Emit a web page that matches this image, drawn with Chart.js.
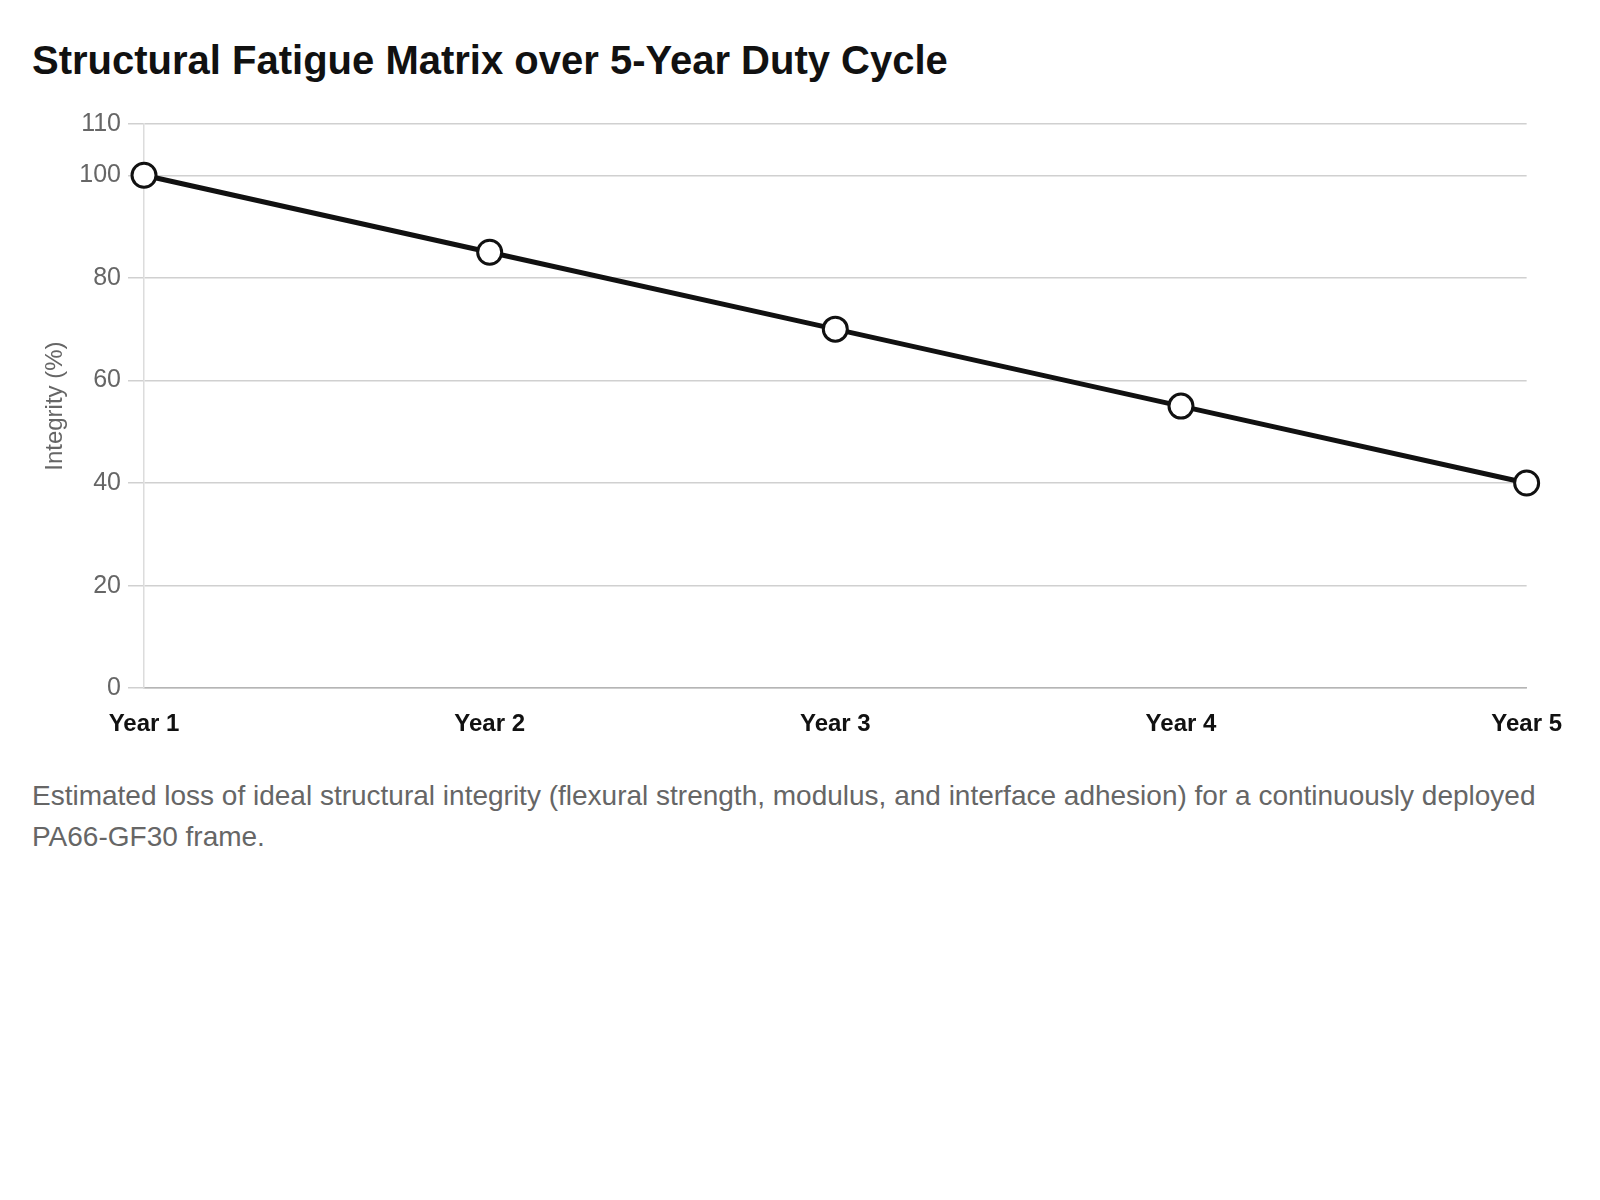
<!DOCTYPE html>
<html>
<head>
<meta charset="utf-8">
<script src="https://cdn.jsdelivr.net/npm/chart.js@4"></script>
<style>
    body {
        margin: 0;
        background: #fff;
        font-family: "Liberation Sans", Arial, sans-serif;
    }
    .wrap {
        padding: 36px 32px 0 32px;
    }
    h1 {
        margin: 0;
        font-size: 40px;
        line-height: 48px;
        font-weight: bold;
        color: #111;
    }
    .chart-box {
        position: relative;
        height: 661px;
        margin-top: 16px;
        margin-right: -16px;
    }
    p.caption {
        margin: 15px 0 0 0;
        font-size: 28px;
        line-height: 1.45;
        color: #666;
    }
</style>
</head>
<body>
<div class="wrap">
    <h1>Structural Fatigue Matrix over 5-Year Duty Cycle</h1>
    <div class="chart-box">
        <canvas id="FatigueChart"></canvas>
    </div>
    <p class="caption">Estimated loss of ideal structural integrity (flexural strength, modulus, and interface adhesion) for a continuously deployed PA66-GF30 frame.</p>
</div>

<script>
const fatigue_years = ["Year 1", "Year 2", "Year 3", "Year 4", "Year 5"];
const fatigue_integrity = [100, 85, 70, 55, 40];
const fatigue_y_ticks = [0, 20, 40, 60, 80, 100, 110];

function graph_fatigue_matrix(labels, values, yTicks) {
    const ctx = document.getElementById("FatigueChart").getContext("2d");

    new Chart(ctx, {
        type: "line",
        data: {
            labels: labels,
            datasets: [
                {
                    label: "Integrity",
                    data: values,
                    borderColor: "#111111",
                    backgroundColor: "#ffffff",
                    borderWidth: 5,
                    fill: false,
                    tension: 0,
                    pointRadius: 12,
                    pointHoverRadius: 12,
                    pointBorderWidth: 3,
                    pointBackgroundColor: "#ffffff",
                    pointBorderColor: "#111111"
                }
            ]
        },
        options: {
            responsive: true,
            maintainAspectRatio: false,
            animation: false,
            layout: {
                padding: { top: 24, right: 39, left: 5, bottom: 0 }
            },
            plugins: {
                legend: { display: false },
                tooltip: { enabled: false }
            },
            scales: {
                x: {
                    offset: false,
                    grid: {
                        display: false,
                        drawTicks: false
                    },
                    border: {
                        display: true,
                        color: "#b5b5b5",
                        width: 1.5
                    },
                    ticks: {
                        color: "#111111",
                        padding: 22,
                        maxRotation: 0,
                        font: { family: "Liberation Sans", size: 24, weight: "bold" }
                    }
                },
                y: {
                    min: 0,
                    max: 110,
                    afterBuildTicks: function(axis) {
                        // feste Ticks inkl. 110 oben
                        axis.ticks = yTicks.map(v => ({ value: v }));
                    },
                    grid: {
                        color: "#d0d0d0",
                        lineWidth: 1.5,
                        tickLength: 16
                    },
                    border: {
                        display: true,
                        color: "#dcdcdc",
                        width: 1.5
                    },
                    ticks: {
                        color: "#666666",
                        padding: 7,
                        font: { family: "Liberation Sans", size: 25 }
                    },
                    title: {
                        display: true,
                        text: "Integrity (%)",
                        color: "#666666",
                        padding: { top: 4, bottom: 2.5 },
                        font: { family: "Liberation Sans", size: 24 }
                    }
                }
            }
        }
    });
}

graph_fatigue_matrix(fatigue_years, fatigue_integrity, fatigue_y_ticks);
</script>
</body>
</html>
